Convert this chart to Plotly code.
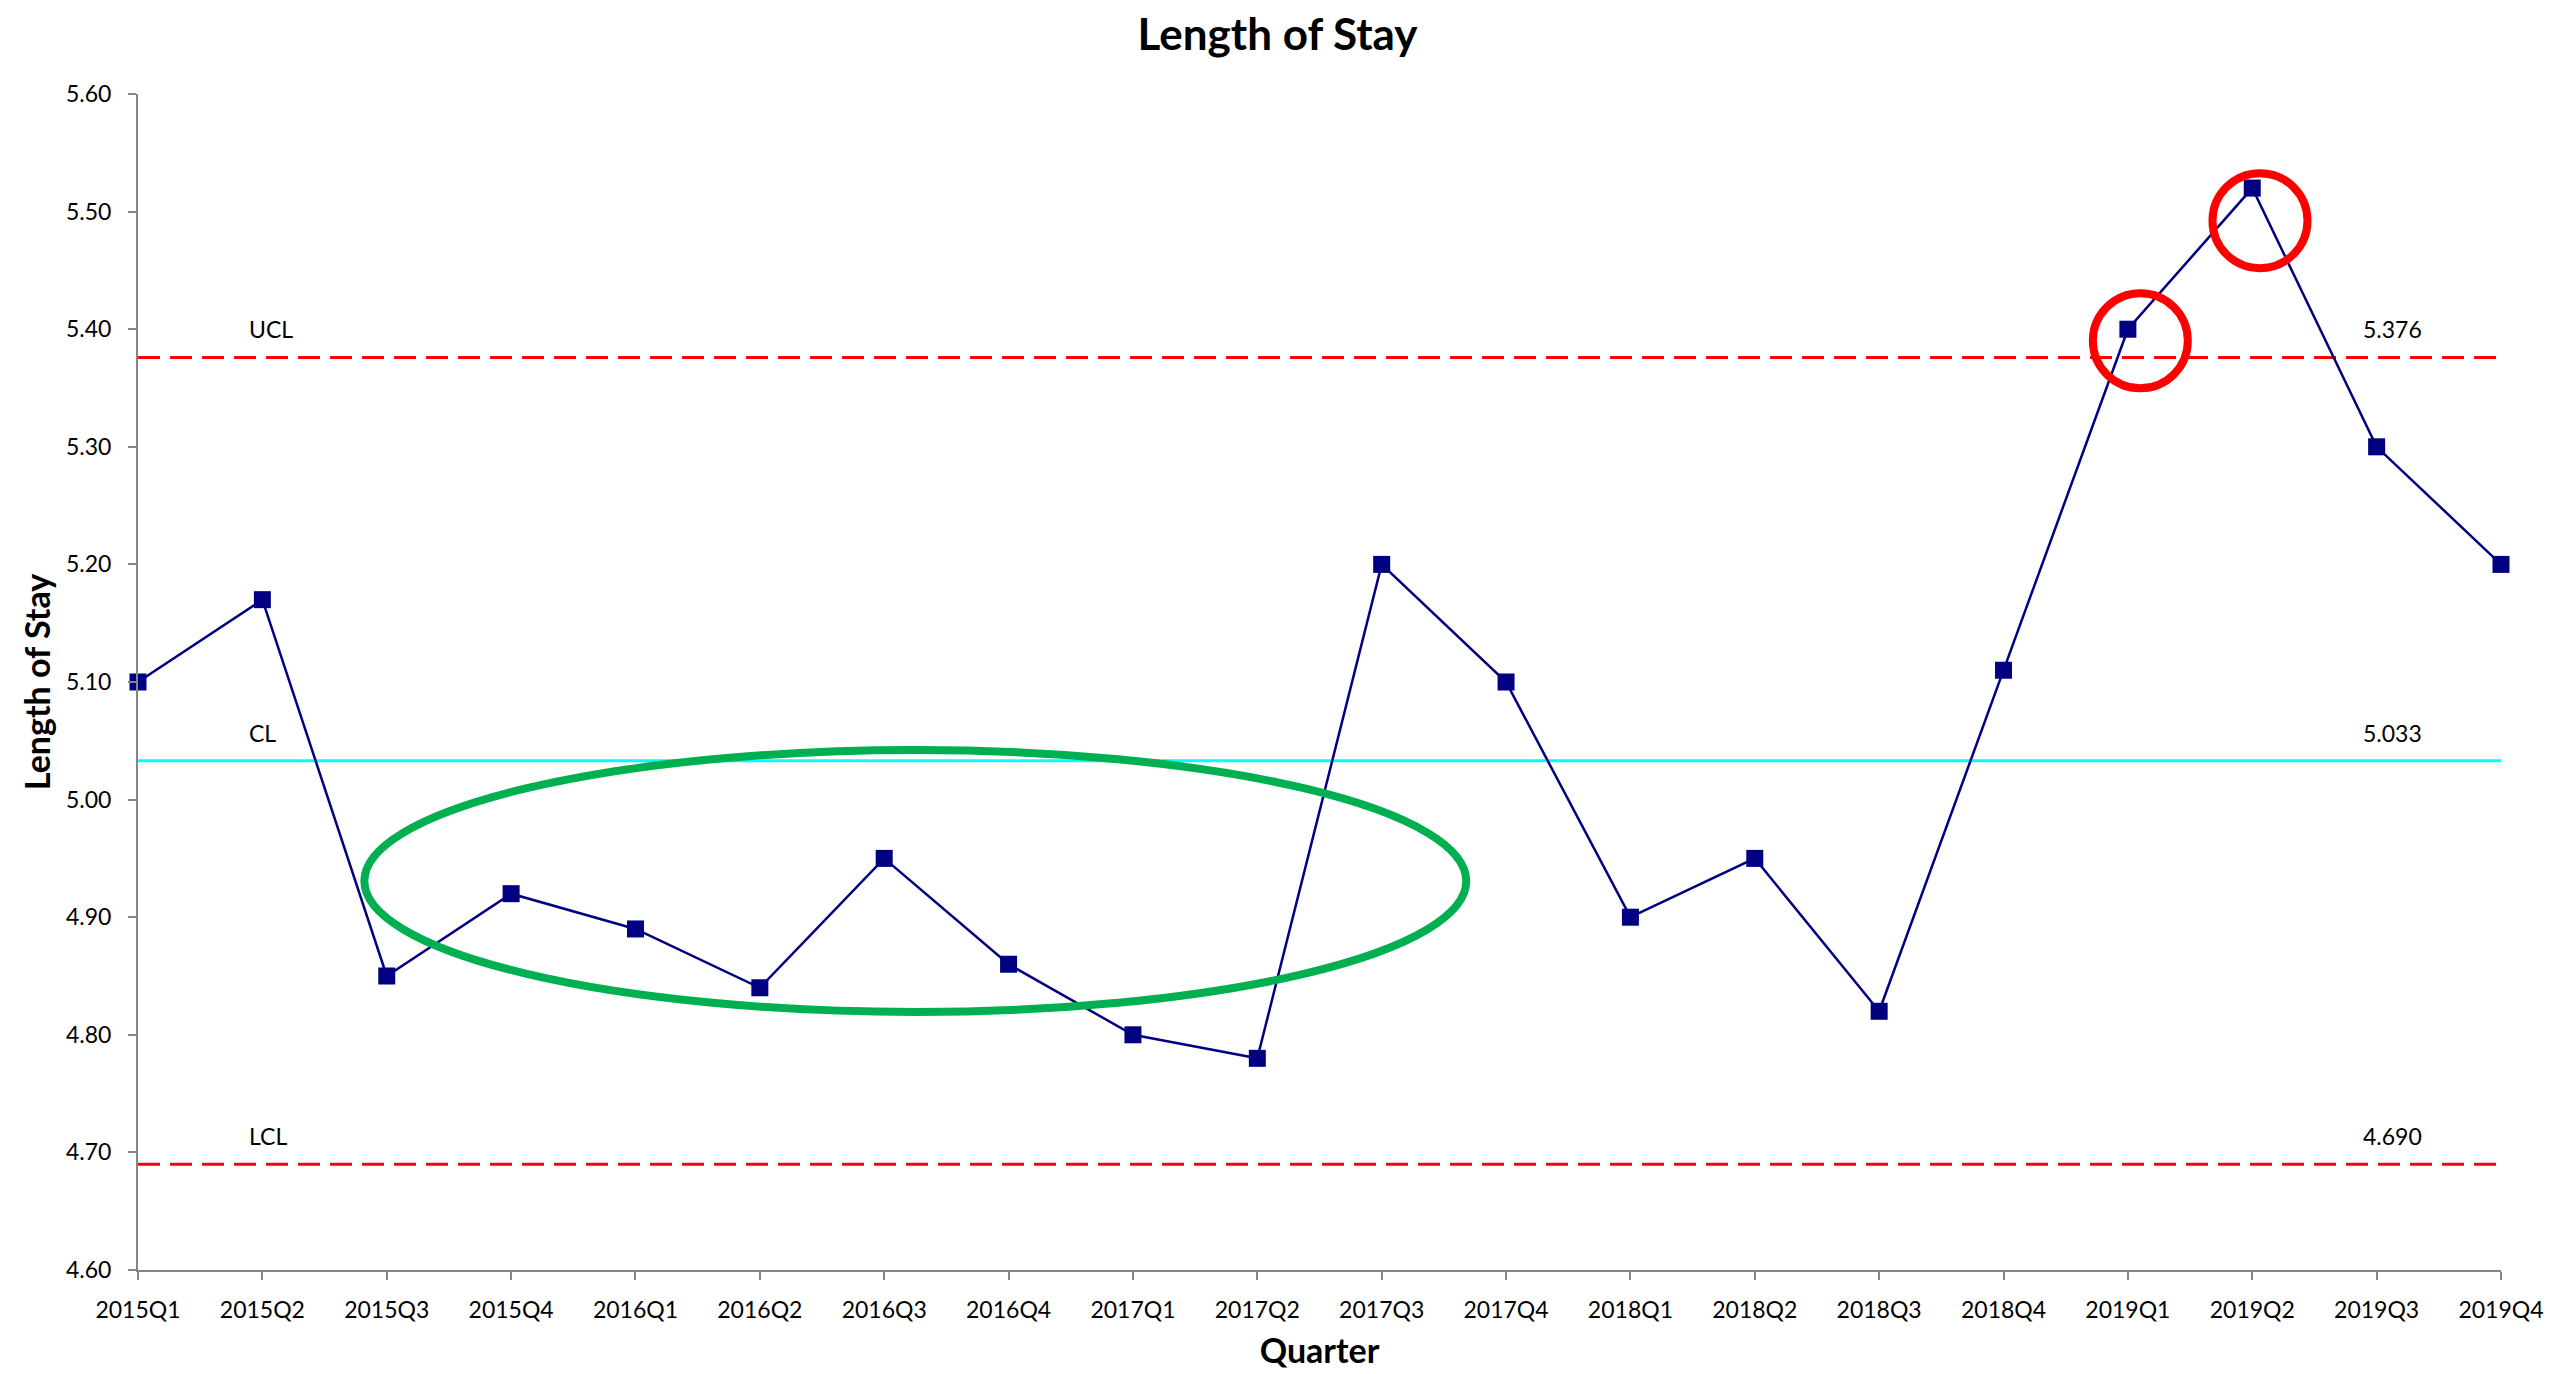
import plotly.graph_objects as go

# Quarterly average length of stay (days)
quarters = ["2015Q1", "2015Q2", "2015Q3", "2015Q4",
            "2016Q1", "2016Q2", "2016Q3", "2016Q4",
            "2017Q1", "2017Q2", "2017Q3", "2017Q4",
            "2018Q1", "2018Q2", "2018Q3", "2018Q4",
            "2019Q1", "2019Q2", "2019Q3", "2019Q4"]
length_of_stay = [5.10, 5.17, 4.85, 4.92,
                  4.89, 4.84, 4.95, 4.86,
                  4.80, 4.78, 5.20, 5.10,
                  4.90, 4.95, 4.82, 5.11,
                  5.40, 5.52, 5.30, 5.20]

# Control limits
ucl = 5.376
cl = 5.033
lcl = 4.690

y_ticks = [4.60, 4.70, 4.80, 4.90, 5.00, 5.10, 5.20, 5.30, 5.40, 5.50, 5.60]

FONT = "Lato"
AXIS_GREY = "#868686"

idx = list(range(len(quarters)))
x_end = [idx[0], idx[-1]]

fig = go.Figure()

# Limit lines
fig.add_trace(go.Scatter(x=x_end, y=[ucl, ucl], mode="lines",
                         line=dict(color="#FF0000", width=3, dash="22px,10px"),
                         hoverinfo="skip", showlegend=False))
fig.add_trace(go.Scatter(x=x_end, y=[cl, cl], mode="lines",
                         line=dict(color="#00FFFF", width=3),
                         hoverinfo="skip", showlegend=False))
fig.add_trace(go.Scatter(x=x_end, y=[lcl, lcl], mode="lines",
                         line=dict(color="#FF0000", width=3, dash="22px,10px"),
                         hoverinfo="skip", showlegend=False))

# Measured series
fig.add_trace(go.Scatter(x=idx, y=length_of_stay, mode="lines+markers",
                         line=dict(color="#000080", width=2.5),
                         marker=dict(symbol="square", size=17, color="#000080",
                                     line=dict(width=0)),
                         cliponaxis=False, showlegend=False,
                         text=quarters,
                         hovertemplate="%{text}: %{y:.2f}<extra></extra>"))

# Limit labels: name on the left, value on the right
labels = [("UCL", ucl), ("CL", cl), ("LCL", lcl)]
for name, val in labels:
    fig.add_annotation(x=1, y=val, text=name, showarrow=False,
                       xanchor="left", yanchor="middle", xshift=-15, yshift=28,
                       font=dict(family=FONT, size=23, color="#000000"))
    fig.add_annotation(x=18, y=val, text=f"{val:.3f}", showarrow=False,
                       xanchor="left", yanchor="middle", xshift=-16, yshift=28,
                       font=dict(family=FONT, size=23, color="#000000"))

# Highlight: run of points below the centre line
fig.add_shape(type="circle", xref="x", yref="y",
              x0=1.82, x1=10.68, y0=4.8194, y1=5.0421,
              line=dict(color="#00B050", width=8), layer="above")

# Highlight: points beyond the upper control limit
for cx, cy in [(16.10, 5.3902), (17.062, 5.4923)]:
    fig.add_shape(type="circle", xref="x", yref="y",
                  xsizemode="pixel", ysizemode="pixel",
                  xanchor=cx, yanchor=cy,
                  x0=-47.5, x1=47.5, y0=-47.5, y1=47.5,
                  line=dict(color="#FF0000", width=8), layer="above")

fig.update_layout(
    width=2555, height=1374,
    margin=dict(l=138, r=54, t=94, b=104, autoexpand=False),
    paper_bgcolor="#FFFFFF", plot_bgcolor="#FFFFFF",
    font=dict(family=FONT, size=23, color="#000000"),
    title=dict(text="<b>Length of Stay</b>", x=0.5, xref="container",
               y=1 - 35 / 1374, yref="container", yanchor="middle", xanchor="center",
               font=dict(family=FONT, size=44, color="#000000")),
    xaxis=dict(range=[0, len(quarters) - 1], tickmode="array",
               tickvals=idx, ticktext=quarters,
               showgrid=False, zeroline=False,
               showline=True, linecolor=AXIS_GREY, linewidth=2,
               ticks="outside", ticklen=8, tickwidth=2, tickcolor=AXIS_GREY,
               tickfont=dict(family=FONT, size=23, color="#000000"),
               ticklabelstandoff=10,
               title=dict(text="<b>Quarter</b>", standoff=18,
                          font=dict(family=FONT, size=34, color="#000000"))),
    yaxis=dict(range=[4.6, 5.6], tickmode="array", tickvals=y_ticks,
               tickformat=".2f",
               showgrid=False, zeroline=False,
               showline=True, linecolor=AXIS_GREY, linewidth=2,
               ticks="outside", ticklen=8, tickwidth=2, tickcolor=AXIS_GREY,
               tickfont=dict(family=FONT, size=23, color="#000000"),
               ticklabelstandoff=12,
               title=dict(text="<b>Length of Stay</b>", standoff=5,
                          font=dict(family=FONT, size=34, color="#000000"))),
    hovermode="closest",
)

fig.write_html("out.html")
